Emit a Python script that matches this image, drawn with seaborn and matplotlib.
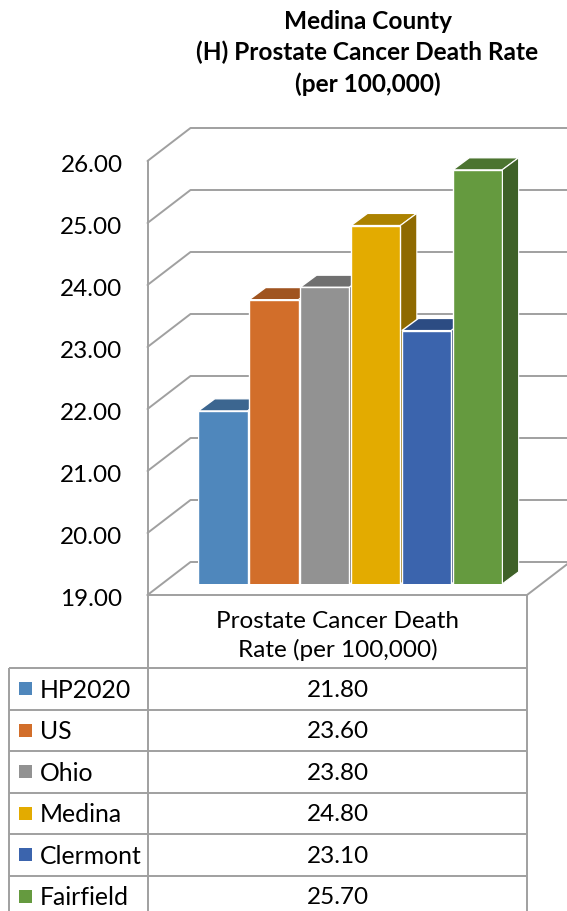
import matplotlib
matplotlib.use("Agg")
import matplotlib.pyplot as plt
import seaborn as sns
from matplotlib.patches import Polygon, Rectangle
from matplotlib.transforms import ScaledTranslation

categories = ["HP2020", "US", "Ohio", "Medina", "Clermont", "Fairfield"]
values = [21.80, 23.60, 23.80, 24.80, 23.10, 25.70]
front_colors = ["#4F87BC", "#D26E2A", "#929292", "#E3AB00", "#3B64AD", "#659A3F"]
top_colors = ["#3C6690", "#A05420", "#707070", "#AC8200", "#2C4C83", "#4C7430"]
side_colors = ["#35597E", "#8C4A1C", "#616161", "#8F6A00", "#263F6F", "#3F6128"]
value_ticks = [19, 20, 21, 22, 23, 24, 25, 26]
title_lines = "Medina County\n(H) Prostate Cancer Death Rate\n(per 100,000)"
series_name = "Prostate Cancer Death\nRate (per 100,000)"

W, H = 567, 911
GREY = "#A0A0A0"
FONT = "Lato"
TXT = 17.5

sns.set_theme(style="white")
plt.rcParams["font.family"] = [FONT, "DejaVu Sans"]
fig = plt.figure(figsize=(W / 100, H / 100), dpi=100, facecolor="white")


def px_axes(left, top, right, bottom, **kw):
    return fig.add_axes([left / W, 1 - bottom / H, (right - left) / W, (bottom - top) / H], **kw)


# Chart walls and floor: front plane of the value axis
wall = px_axes(147.5, 161, 527, 595)
wall.set_xlim(147.5, 527)
wall.set_ylim(19, 26)
wall.set_facecolor("none")
for s in wall.spines.values():
    s.set_visible(False)
wall.set_xticks([])
wall.set_yticks(value_ticks, [f"{v:.2f}" for v in value_ticks], fontsize=TXT, color="black")
wall.tick_params(axis="y", length=0, pad=18)
shift = ScaledTranslation(0, -3 / 100, fig.dpi_scale_trans)
for lab in wall.get_yticklabels():
    lab.set_transform(lab.get_transform() + shift)

wall_dx, wall_dy = 43, 33 / 62
line_kw = dict(color=GREY, lw=1.4, clip_on=False, solid_capstyle="round")
for v in value_ticks:
    wall.plot([147.5, 147.5 + wall_dx, 575], [v, v + wall_dy, v + wall_dy], **line_kw)
wall.plot([147.5, 147.5], [19, 26], **line_kw)
wall.plot([147.5, 527, 527 + wall_dx], [19, 19, 19 + wall_dy], **line_kw)

# Bars
ax = px_axes(197.5, 584 - 7 * 61.8, 502.9, 584)
ax.set_facecolor("none")
sns.barplot(x=categories, y=values, hue=categories, palette=front_colors, saturation=1,
            width=0.97, legend=False, ax=ax, edgecolor="white", linewidth=1.0)
ax.set_xlim(-0.5, 5.5)
ax.set_ylim(19, 26)
ax.axis("off")

dx, dy = 16.5 / 50.9, 12.2 / 61.8
for i, (bar, v) in enumerate(zip(ax.patches, values)):
    x0 = bar.get_x()
    x1 = x0 + bar.get_width()
    bar.set_zorder(3 + 2 * i + 1)
    ax.add_patch(Polygon([(x0, v), (x1, v), (x1 + dx, v + dy), (x0 + dx, v + dy)], closed=True,
                         facecolor=top_colors[i], edgecolor="white", lw=1.0,
                         clip_on=False, zorder=3 + 2 * i))
    ax.add_patch(Polygon([(x1, 19), (x1, v), (x1 + dx, v + dy), (x1 + dx, 19 + dy)], closed=True,
                         facecolor=side_colors[i], edgecolor="white", lw=0.8,
                         clip_on=False, zorder=3 + 2 * i))

# Data table and title overlay in pixel coordinates
ov = px_axes(0, 0, W, H)
ov.set_xlim(0, W)
ov.set_ylim(H, 0)
ov.axis("off")
ov.set_facecolor("none")

table_kw = dict(color=GREY, lw=1.4, solid_capstyle="butt")
row_h = 41.5
row_top = 668
for i in range(len(categories) + 1):
    y = row_top + i * row_h
    if y < H:
        ov.plot([8.5, 527], [y, y], **table_kw)
ov.plot([8.5, 8.5], [row_top, H], **table_kw)
ov.plot([147.5, 147.5], [595, H], **table_kw)
ov.plot([527, 527], [595, H], **table_kw)

ov.text(337.5, 636, series_name, ha="center", va="center", fontsize=TXT, color="black", linespacing=1.37)
for i, (c, v, col) in enumerate(zip(categories, values, front_colors)):
    yc = row_top + (i + 0.5) * row_h
    ov.add_patch(Rectangle((19, yc - 6.5), 13, 13, facecolor=col, edgecolor="none"))
    ov.text(40, yc + 1.5, c, ha="left", va="center", fontsize=TXT + 0.3, color="black")
    ov.text(337.5, yc + 1.5, f"{v:.2f}", ha="center", va="center", fontsize=TXT, color="black")

ov.text(367.5, 53, title_lines, ha="center", va="center", fontsize=17.6, fontweight="bold",
        color="black", linespacing=1.41)

fig.savefig("out.png", dpi=100, facecolor="white")
